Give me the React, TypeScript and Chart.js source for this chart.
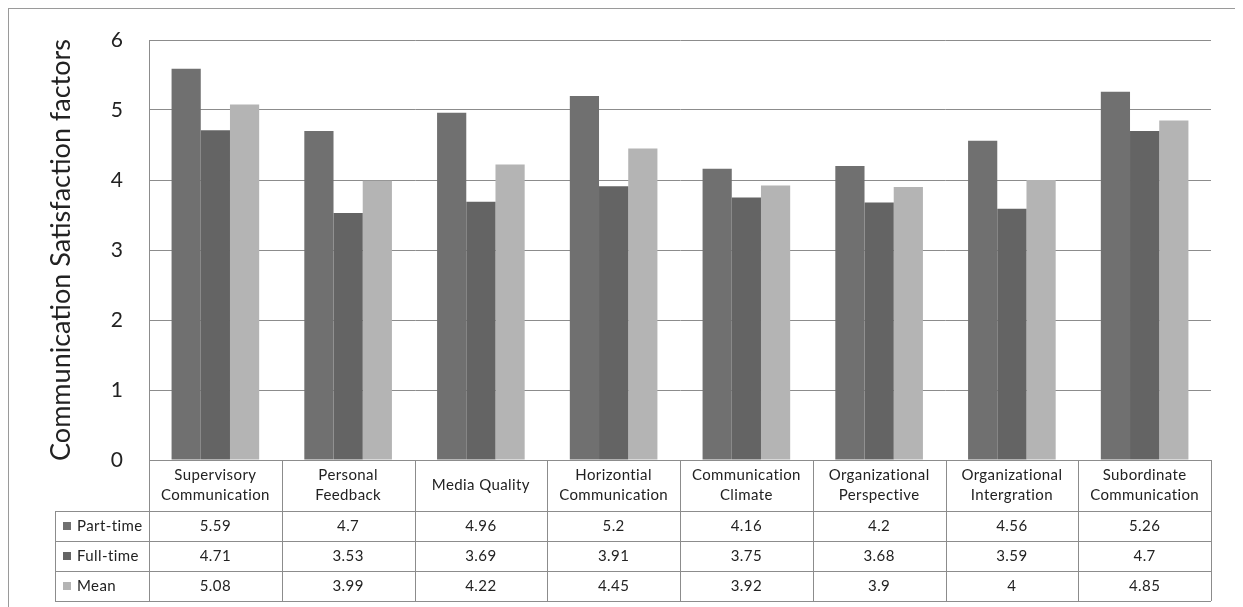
import React, { useEffect, useRef } from "react";
import { Chart, registerables } from "chart.js";

Chart.register(...registerables);

const categories: string[][] = [
  ["Supervisory", "Communication"],
  ["Personal", "Feedback"],
  ["Media Quality"],
  ["Horizontial", "Communication"],
  ["Communication", "Climate"],
  ["Organizational", "Perspective"],
  ["Organizational", "Intergration"],
  ["Subordinate", "Communication"],
];

const partTime = [5.59, 4.7, 4.96, 5.2, 4.16, 4.2, 4.56, 5.26];
const fullTime = [4.71, 3.53, 3.69, 3.91, 3.75, 3.68, 3.59, 4.7];
const meanValues = [5.08, 3.99, 4.22, 4.45, 3.92, 3.9, 4, 4.85];

const seriesNames = ["Part-time", "Full-time", "Mean"];
const seriesColors = ["#707070", "#646464", "#b4b4b4"];

const FONT = "Lato, 'Liberation Sans', sans-serif";
const LINE = "#8c8c8c";

// Row heights of the data table drawn under the plot area
const HEADER_H = 51;
const ROW_H = 30;
const LEGEND_LEFT = 46;

const dataTablePlugin = {
  id: "dataTable",
  afterDraw(chart: any) {
    const ctx: any = chart.ctx;
    const x = chart.scales.x;
    const area = chart.chartArea;
    const n = categories.length;
    const colW = (area.right - area.left) / n;
    const top = area.bottom;
    const rowsTop = top + HEADER_H;
    const bottom = rowsTop + ROW_H * seriesNames.length;
    const right = area.left + colW * n;

    ctx.save();
    ctx.strokeStyle = LINE;
    ctx.lineWidth = 1;

    const hline = (y: number, x0: number, x1: number) => {
      ctx.beginPath();
      ctx.moveTo(x0, Math.round(y) + 0.5);
      ctx.lineTo(x1, Math.round(y) + 0.5);
      ctx.stroke();
    };
    const vline = (xx: number, y0: number, y1: number) => {
      ctx.beginPath();
      ctx.moveTo(Math.round(xx) + 0.5, y0);
      ctx.lineTo(Math.round(xx) + 0.5, y1);
      ctx.stroke();
    };

    hline(top, area.left, right);
    for (let r = 0; r <= seriesNames.length; r++) {
      hline(rowsTop + r * ROW_H, LEGEND_LEFT, right);
    }
    vline(LEGEND_LEFT, rowsTop, bottom);
    for (let c = 0; c <= n; c++) {
      vline(area.left + c * colW, top, bottom);
    }

    ctx.fillStyle = "#222";
    ctx.textAlign = "center";
    ctx.textBaseline = "middle";
    ctx.font = `15px ${FONT}`;
    ctx.letterSpacing = "0.4px";

    // category header cells
    categories.forEach((lines, i) => {
      const cx = x.getPixelForValue(i);
      const lh = 20;
      const cy = top + HEADER_H / 2;
      lines.forEach((t, k) => {
        ctx.fillText(t, cx, cy + (k - (lines.length - 1) / 2) * lh);
      });
    });

    // value rows with legend swatches
    const rows = [partTime, fullTime, meanValues];
    rows.forEach((vals, r) => {
      const cy = rowsTop + r * ROW_H + ROW_H / 2;
      ctx.fillStyle = seriesColors[r];
      ctx.fillRect(LEGEND_LEFT + 8, cy - 4, 8, 8);
      ctx.fillStyle = "#222";
      ctx.textAlign = "left";
      ctx.fillText(seriesNames[r], LEGEND_LEFT + 22, cy);
      ctx.textAlign = "center";
      vals.forEach((v, i) => {
        ctx.fillText(String(v), x.getPixelForValue(i), cy);
      });
    });
    ctx.restore();
  },
};

export default function App() {
  const canvasRef = useRef<HTMLCanvasElement | null>(null);

  useEffect(() => {
    if (!canvasRef.current) return;
    const chart = new Chart(canvasRef.current, {
      type: "bar",
      data: {
        labels: categories.map((c) => c.join(" ")),
        datasets: [
          { label: seriesNames[0], data: partTime, backgroundColor: seriesColors[0] },
          { label: seriesNames[1], data: fullTime, backgroundColor: seriesColors[1] },
          { label: seriesNames[2], data: meanValues, backgroundColor: seriesColors[2] },
        ],
      },
      options: {
        responsive: false,
        animation: false,
        layout: { padding: { top: 31, right: 27, bottom: 141, left: 36 } },
        plugins: {
          legend: { display: false },
          tooltip: { enabled: false },
        },
        datasets: {
          bar: { categoryPercentage: 0.66, barPercentage: 1 },
        },
        scales: {
          x: {
            ticks: { display: false },
            grid: { display: false },
            border: { color: LINE },
          },
          y: {
            min: 0,
            max: 6,
            ticks: {
              stepSize: 1,
              color: "#222",
              font: { family: FONT, size: 21 },
              padding: 26,
            },
            grid: { color: LINE, drawTicks: false },
            border: { color: LINE },
            title: {
              display: true,
              text: "Communication Satisfaction factors",
              color: "#222",
              font: { family: FONT, size: 27 },
              padding: { top: 0, bottom: 0 },
            },
            afterFit: (s: any) => {
              s.width = 104;
              s.paddingTop = 0;
              s.paddingBottom = 0;
            },
          },
        },
      },
      plugins: [dataTablePlugin],
    });
    return () => chart.destroy();
  }, []);

  return (
    <div
      style={{
        width: 1229,
        height: 600,
        border: "1px solid #9a9a9a",
        background: "#fff",
      }}
    >
      <canvas ref={canvasRef} width={1229} height={600} style={{ display: "block" }} />
    </div>
  );
}
